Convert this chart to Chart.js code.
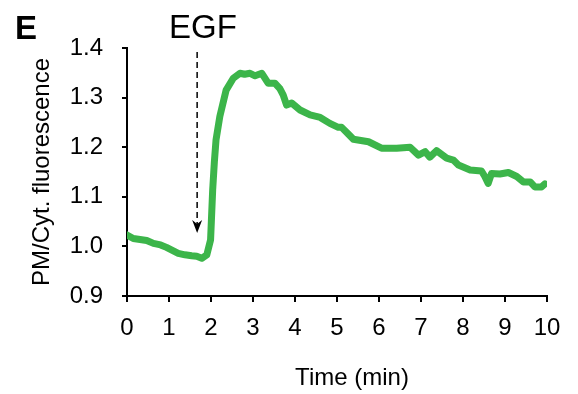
<!DOCTYPE html>
<html>
<head>
<meta charset="utf-8">
<script src="https://cdn.jsdelivr.net/npm/chart.js@4"></script>
<style>
  html, body { margin: 0; padding: 0; background: #fff; }
  #wrap { width: 578px; height: 394px; }
</style>
</head>
<body>
<div id="wrap"><canvas id="egf"></canvas></div>
<script>
// time after start (min) and PM/Cyt. ratio
var tValues = [0, 0.15, 0.31, 0.47, 0.63, 0.8, 0.94, 1.08, 1.22, 1.38, 1.54, 1.66, 1.78, 1.9, 1.99,
    2.04, 2.08, 2.12, 2.21, 2.36, 2.53, 2.69, 2.8, 2.93, 3.05, 3.21, 3.36, 3.52, 3.64, 3.72, 3.8,
    3.92, 4.12, 4.36, 4.6, 4.83, 5.03, 5.11, 5.25, 5.39, 5.75, 6.06, 6.42, 6.74, 6.94, 7.1, 7.21,
    7.37, 7.61, 7.77, 7.89, 8.17, 8.44, 8.52, 8.6, 8.68, 8.88, 9.08, 9.28, 9.44, 9.6, 9.71, 9.87, 9.95];
var ratioValues = [1.023, 1.016, 1.014, 1.012, 1.006, 1.003, 0.998, 0.992, 0.986, 0.983, 0.981, 0.980, 0.976, 0.983, 1.013,
    1.114, 1.17, 1.215, 1.262, 1.315, 1.339, 1.349, 1.347, 1.349, 1.344, 1.349, 1.329, 1.329, 1.318, 1.305, 1.285,
    1.289, 1.275, 1.265, 1.260, 1.248, 1.240, 1.240, 1.228, 1.216, 1.211, 1.198, 1.198, 1.200, 1.184, 1.191, 1.180,
    1.193, 1.178, 1.174, 1.164, 1.154, 1.152, 1.141, 1.127, 1.147, 1.146, 1.149, 1.141, 1.130, 1.130, 1.120, 1.120, 1.126];
var yTicks = [0.9, 1.0, 1.1, 1.2, 1.3, 1.4];
var egfTime = 1.67;       // where EGF was added
var egfArrowEnd = 1.027;  // arrow tip value

Chart.defaults.font.family = "'Liberation Sans', Arial, sans-serif";
Chart.defaults.color = '#000';

var points = tValues.map(function (t, i) { return { x: t, y: ratioValues[i] }; });

// panel letter, EGF arrow and x title
const extras = {
    id: 'extras',
    afterDraw(chart) {
        const c = chart.ctx;
        const xs = chart.scales.x, ys = chart.scales.y;
        const ax = xs.getPixelForValue(egfTime);
        const tip = ys.getPixelForValue(egfArrowEnd);
        c.save();
        c.fillStyle = '#000';
        c.font = "bold 33px 'Liberation Sans', Arial";
        c.textBaseline = 'alphabetic';
        c.textAlign = 'left';
        c.fillText('E', 15, 39);

        c.font = "33px 'Liberation Sans', Arial";
        c.textAlign = 'center';
        c.fillText('EGF', 203, 38);

        c.strokeStyle = '#000';
        c.lineWidth = 1.5;
        c.setLineDash([6, 4]);
        c.beginPath();
        c.moveTo(ax, 52);
        c.lineTo(ax, tip - 9);
        c.stroke();
        c.setLineDash([]);
        c.beginPath();
        c.moveTo(ax - 5, tip - 13);
        c.lineTo(ax, tip - 9);
        c.lineTo(ax + 5, tip - 13);
        c.lineTo(ax, tip);
        c.closePath();
        c.fill();

        c.font = "24px 'Liberation Sans', Arial";
        c.textBaseline = 'middle';
        c.fillText('Time (min)', 352, 378);
        c.restore();
    }
};

const egfChart = new Chart('egf', {
    type: 'line',
    data: {
        datasets: [{
            data: points,
            borderColor: '#3cb54a',
            borderWidth: 7,
            borderJoinStyle: 'round',
            borderCapStyle: 'round',
            pointRadius: 0,
            tension: 0,
            fill: false
        }]
    },
    options: {
        responsive: true,
        maintainAspectRatio: false,
        animation: false,
        layout: { padding: { top: 48, right: 31, left: 0, bottom: 0 } },
        plugins: {
            legend: { display: false },
            tooltip: { enabled: false }
        },
        scales: {
            x: {
                type: 'linear',
                min: 0,
                max: 10,
                afterFit: function (s) { s.height = 98; },
                border: { color: '#000', width: 2 },
                grid: { drawOnChartArea: false, drawTicks: true, tickLength: 6, color: '#000', lineWidth: 2 },
                ticks: { stepSize: 1, padding: 12, font: { size: 24 }, color: '#000', maxRotation: 0 }
            },
            y: {
                min: 0.9,
                max: 1.4,
                afterFit: function (s) { s.width = 127; },
                afterBuildTicks: function (s) { s.ticks = yTicks.map(function (v) { return { value: v }; }); },
                border: { color: '#000', width: 2 },
                grid: { drawOnChartArea: false, drawTicks: true, tickLength: 5, color: '#000', lineWidth: 2 },
                ticks: {
                    padding: 19,
                    font: { size: 24 },
                    color: '#000',
                    callback: function (v) { return v.toFixed(1); }
                },
                title: {
                    display: true,
                    text: 'PM/Cyt. fluorescence',
                    font: { size: 24 },
                    color: '#000',
                    padding: { top: 28, bottom: 0 }
                }
            }
        }
    },
    plugins: [extras]
});
</script>
</body>
</html>
